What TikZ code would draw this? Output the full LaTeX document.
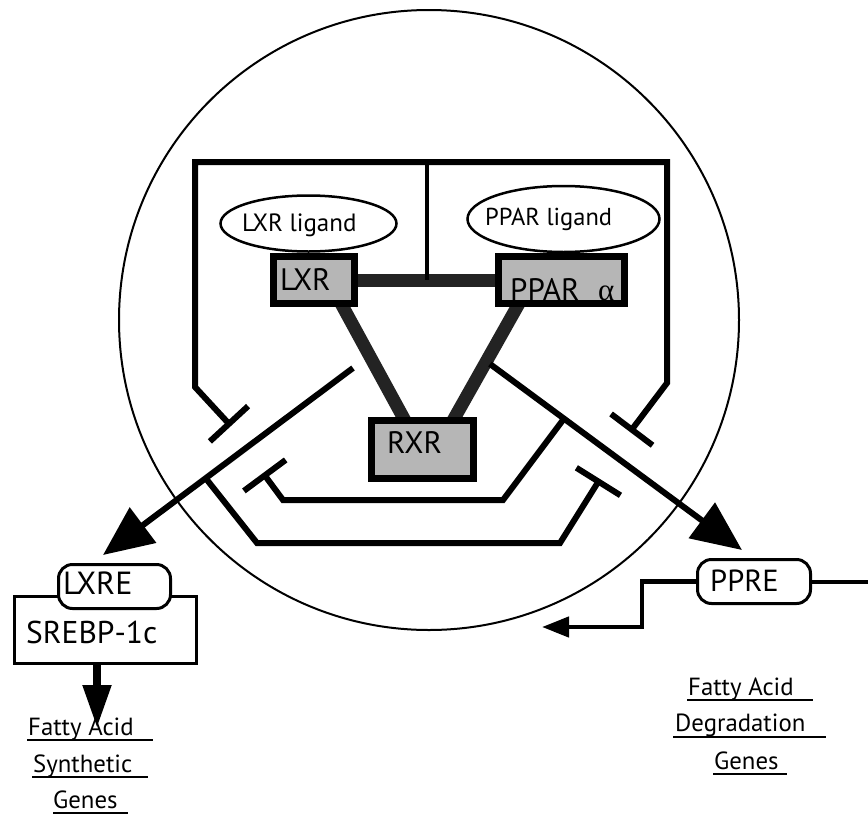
\documentclass[tikz,border=0pt]{standalone}
\usepackage{fontspec}
\setmainfont{PT Sans}
\newfontfamily\greekfont{Liberation Serif}
\usetikzlibrary{arrows.meta,calc,shapes.geometric}
\definecolor{boxgray}{RGB}{182,182,182}
\definecolor{bonddark}{RGB}{35,35,35}
\pgfdeclarelayer{bg}
\pgfsetlayers{bg,main}
\tikzset{
  lab/.style={inner sep=0pt, anchor=base west},
  gene/.style={lab, font=\fontsize{24.8}{28}\selectfont},
  recbox/.style={draw, line width=7pt, fill=boxgray, inner sep=0pt},
  ligand/.style={draw, ellipse, line width=2.5pt, fill=white, inner sep=0pt},
  bracket/.style={line width=6pt},
  bond/.style={line width=13pt, draw=bonddark, shorten <=-12pt, shorten >=-12pt},
  bigarrow/.style={line width=6pt, -{Triangle[length=50pt,width=43pt]}},
  element/.style={draw, line width=3pt, rounded corners=14pt, fill=white, inner sep=0pt},
  uline/.style={line width=2.5pt}
}
\begin{document}
\begin{tikzpicture}[x=1pt,y=-1pt]
\begin{pgfonlayer}{bg}
\fill[white] (0,0) rectangle (868,817);
\end{pgfonlayer}
\useasboundingbox (0,0) rectangle (868,817);

% cell
\node[draw, circle, line width=2pt, minimum size=620pt, inner sep=0pt] (cell) at (429,320) {};

% receptor boxes
\node[recbox, minimum width=81pt, minimum height=47pt] (lxr) at (314,280) {};
\node[recbox, minimum width=126pt, minimum height=47pt] (ppar) at (561.5,280) {};
\node[recbox, minimum width=102pt, minimum height=58pt] (rxr) at (422.5,449.5) {};

% bonds (behind boxes)
\begin{pgfonlayer}{bg}
\draw[bond] (lxr.east) -- (ppar.west);
\draw[bond] ($(lxr.south)+(29,0)$) -- ($(rxr.north)+(-19.5,0)$);
\draw[bond] ($(ppar.south)+(-44.5,0)$) -- ($(rxr.north)+(32.5,0)$);
\end{pgfonlayer}

% ligands
\node[ligand, minimum width=176pt, minimum height=56pt] (lxrlig) at (308.5,223.5) {};
\node[ligand, minimum width=192pt, minimum height=66pt] (pparlig) at (563.5,219) {};

% labels in boxes
\node[lab, font=\fontsize{25}{28}\selectfont] (tlxrlig) at (242,231) {LXR ligand};
\node[lab, font=\fontsize{24.5}{28}\selectfont] (tpparlig) at (485,225) {PPAR ligand};
\node[lab, font=\fontsize{31}{34}\selectfont] (tlxr) at (280,290) {LXR};
\node[lab, font=\fontsize{31}{34}\selectfont] (tppar) at (510,300) {PPAR};
\node[lab, font=\fontsize{31}{34}\selectfont\greekfont] (talpha) at (598,300) {α};
\node[lab, font=\fontsize{31}{34}\selectfont] (trxr) at (387,453) {RXR};

% outer inhibitory bracket
\coordinate (ltT) at (231,426);
\coordinate (rtT) at (630,432);
\draw[bracket, {Bar[width=52pt]}-{Bar[width=52pt]}] (ltT) -- (195,387) -- (195,162) -- (667,162) -- (667,383) -- (rtT);
\draw[line width=4.5pt] (427,162) -- (lxr.east -| 427,0);

% big arrows
\coordinate (la1) at (353,368);
\coordinate (la2) at (103,555);
\coordinate (ra1) at (490,364);
\coordinate (ra2) at (742,550);
\draw[bigarrow] (la1) -- (la2);
\draw[bigarrow] (ra1) -- (ra2);

% inner bracket
\coordinate (inT) at (263,473);
\draw[bracket, -{Bar[width=52pt]}] ($(ra1)!(563,420)!(ra2)$) -- (503,500) -- (283,500) -- (inT);
% outer lower bracket
\coordinate (outT) at (600,479);
\draw[bracket, -{Bar[width=52pt]}] ($(la1)!(207,480)!(la2)$) -- (257,543) -- (560,543) -- (outT);

% LXRE / SREBP-1c
\node[draw, line width=3pt, minimum width=182pt, minimum height=67pt, inner sep=0pt, fill=white] (srebp) at (105.5,630) {};
\node[element, minimum width=112pt, minimum height=44pt] (lxre) at (114.5,586.5) {};
\node[lab, font=\fontsize{32}{36}\selectfont] (tlxre) at (63,594) {LXRE};
\node[lab, font=\fontsize{31.5}{36}\selectfont] (tsrebp) at (26,643) {SREBP-1c};
\coordinate (fadown) at (97,728);
\draw[line width=8pt, -{Triangle[length=43pt,width=27pt]}] ($(srebp.south)+(-8.5,0)$) -- (fadown);

% PPRE
\node[element, minimum width=113pt, minimum height=44pt] (ppre) at (754,581.5) {};
\node[lab, font=\fontsize{30.5}{34}\selectfont] (tppre) at (710,591) {PPRE};
\coordinate (redge) at (868,581.5);
\coordinate (pptip) at (542,627);
\draw[line width=4pt] (ppre.east) -- (redge);
\draw[line width=4.5pt, -{Triangle[length=27pt,width=20pt]}] (ppre.west) -| ($(pptip)+(100,0)$) -- (pptip);

% gene labels
\node[gene] (fa1) at (28,735) {Fatty Acid};
\node[gene] (syn) at (33,772) {Synthetic};
\node[gene] (gen1) at (53,808) {Genes};
\draw[uline] (27,740) -- (153,740);
\draw[uline] (32,777) -- (148,777);
\draw[uline] (53,813) -- (128,813);

\node[gene] (fa2) at (688,695) {Fatty Acid};
\node[gene] (deg) at (675,731) {Degradation};
\node[gene] (gen2) at (714,769) {Genes};
\draw[uline] (687,700) -- (813,700);
\draw[uline] (673,737) -- (826,737);
\draw[uline] (713,774) -- (787,774);
\end{tikzpicture}
\end{document}
